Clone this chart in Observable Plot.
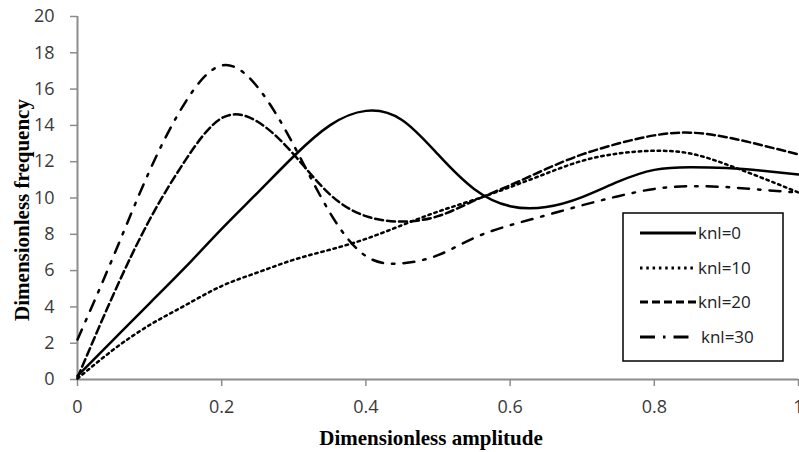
<!DOCTYPE html>
<html>
<head>
<meta charset="utf-8">
<script src="https://cdn.jsdelivr.net/npm/d3@7"></script>
<script src="https://cdn.jsdelivr.net/npm/@observablehq/plot@0.6"></script>
<style>
  body { margin: 0; background: #fff; }
  #chart { width: 799px; height: 452px; }
</style>
</head>
<body>
<div id="chart"></div>
<script>
// Data
const amplitude = [0, 0.05, 0.1, 0.15, 0.2, 0.25, 0.3, 0.35, 0.4, 0.45, 0.5,
                   0.55, 0.6, 0.65, 0.7, 0.75, 0.8, 0.85, 0.9, 0.95, 1.0];
const knl0  = [0.2, 2.2, 4.2, 6.2, 8.3, 10.3, 12.3, 14.0, 14.8, 14.3, 12.4,
               10.5, 9.55, 9.5, 10.05, 10.9, 11.55, 11.7, 11.65, 11.5, 11.3];
const knl10 = [0.05, 1.65, 3.0, 4.1, 5.15, 5.9, 6.6, 7.15, 7.75, 8.5, 9.25,
               9.9, 10.6, 11.35, 12.05, 12.45, 12.6, 12.45, 11.85, 11.1, 10.3];
const knl20 = [0.1, 4.7, 8.8, 12.1, 14.4, 14.2, 12.4, 10.2, 9.0, 8.7, 9.0,
               9.85, 10.7, 11.6, 12.4, 13.0, 13.45, 13.6, 13.35, 12.9, 12.4];
const knl30 = [2.2, 6.8, 11.5, 15.3, 17.3, 16.1, 12.9, 9.2, 6.8, 6.4, 6.85,
               7.8, 8.5, 9.05, 9.6, 10.1, 10.5, 10.65, 10.6, 10.45, 10.3];

const seriesNames = ["knl=0", "knl=10", "knl=20", "knl=30"];
const seriesValues = [knl0, knl10, knl20, knl30];
const xTicks = [0, 0.2, 0.4, 0.6, 0.8, 1];
const yTicks = [0, 2, 4, 6, 8, 10, 12, 14, 16, 18, 20];
const xTitle = "Dimensionless amplitude";
const yTitle = "Dimensionless frequency";

// Styles
const dashes = [null, "2.5,3.8", "8,4", "11,9,2.5,9"];
const widths = [2.5, 2.5, 2.5, 2.5];

const rows = [];
seriesNames.forEach((name, i) => {
  amplitude.forEach((a, j) => rows.push({series: name, x: a, y: seriesValues[i][j]}));
});

const axisGray = "#8c8c8c";
const labelColor = "#3a3a3a";
const tickFont = "'Open Sans', 'Noto Sans', sans-serif";
const titleFont = "'Liberation Serif', 'DejaVu Serif', serif";

const marks = [
  Plot.ruleY([0], {stroke: axisGray, strokeWidth: 2}),
  Plot.ruleX([0], {stroke: axisGray, strokeWidth: 2}),
  Plot.axisX({ticks: xTicks, tickFormat: d => String(d), tickSize: 7, tickPadding: 14,
              stroke: axisGray, strokeWidth: 1.5, fill: labelColor, fontSize: 18,
              fontFamily: tickFont, label: null}),
  Plot.axisY({ticks: yTicks, tickFormat: d => String(d), tickSize: 7, tickPadding: 16,
              stroke: axisGray, strokeWidth: 1.5, fill: labelColor, fontSize: 18,
              fontFamily: tickFont, label: null}),
];
seriesNames.forEach((name, i) => {
  marks.push(Plot.line(rows.filter(r => r.series === name), {
    x: "x", y: "y", curve: "natural", stroke: "black",
    strokeWidth: widths[i], strokeDasharray: dashes[i] ?? undefined
  }));
});
marks.push(Plot.text([xTitle], {frameAnchor: "bottom", textAnchor: "middle", lineAnchor: "middle",
  dx: -7, dy: 59, fontFamily: titleFont, fontWeight: "bold", fontSize: 21, fill: "black"}));
marks.push(Plot.text([yTitle], {frameAnchor: "left", textAnchor: "middle", lineAnchor: "middle",
  dx: -55, dy: 12, rotate: -90, fontFamily: titleFont, fontWeight: "bold", fontSize: 21, fill: "black"}));

const chart = Plot.plot({
  width: 799,
  height: 452,
  marginLeft: 77,
  marginRight: 1,
  marginTop: 16,
  marginBottom: 73,
  style: {background: "#fff", overflow: "hidden"},
  x: {domain: [0, 1]},
  y: {domain: [0, 20]},
  marks
});
document.getElementById("chart").appendChild(chart);

// Legend box
const svg = d3.select(chart);
const lg = svg.append("g");
lg.append("rect").attr("x", 623).attr("y", 213).attr("width", 160).attr("height", 148)
  .attr("fill", "white").attr("stroke", "black").attr("stroke-width", 1.5);
const rowY = [233, 268, 302, 337];
const sampleEnd = [696, 693, 696, 690];
seriesNames.forEach((name, i) => {
  const l = lg.append("line").attr("x1", 640).attr("x2", sampleEnd[i])
    .attr("y1", rowY[i]).attr("y2", rowY[i])
    .attr("stroke", "black").attr("stroke-width", widths[i] + 0.5);
  if (dashes[i]) l.attr("stroke-dasharray", i === 3 ? "15,8,2.5,8" : dashes[i]);
  lg.append("text").attr("x", i === 3 ? 701 : 698).attr("y", rowY[i]).attr("dy", "0.35em")
    .attr("text-anchor", "start")
    .attr("font-family", tickFont).attr("font-size", 17).attr("fill", "#222")
    .text(name);
});
</script>
</body>
</html>
